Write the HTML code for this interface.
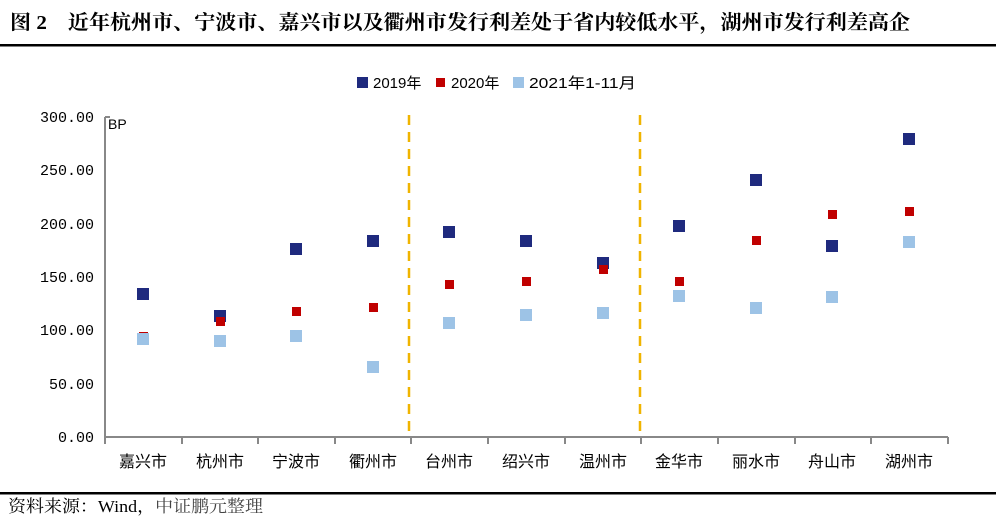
<!DOCTYPE html>
<html><head><meta charset="utf-8"><style>
body{margin:0;background:#fff;width:996px;height:523px;overflow:hidden}
</style></head><body>
<svg width="996" height="523" xmlns="http://www.w3.org/2000/svg" style="position:absolute;left:0;top:0">
<text x="10" y="29" font-family="'Liberation Serif','Noto Serif CJK SC',serif" font-size="20" font-weight="bold" fill="#000" textLength="900" lengthAdjust="spacingAndGlyphs">图 2　近年杭州市、宁波市、嘉兴市以及衢州市发行利差处于省内较低水平，湖州市发行利差高企</text>
<rect x="0" y="44" width="996" height="2.5" fill="#000"/>
<rect x="0" y="492" width="996" height="2.5" fill="#000"/>
<text x="8" y="512" font-family="'Liberation Serif','Noto Serif CJK SC',serif" font-size="17" fill="#000" textLength="255" lengthAdjust="spacingAndGlyphs">资料来源：Wind，<tspan fill="#444">中证鹏元整理</tspan></text>
<g font-family="'Liberation Sans','Noto Sans CJK SC',sans-serif" font-size="15" fill="#000">
<rect x="357" y="77" width="11" height="11" fill="#1F2A7E"/><text x="373" y="88">2019年</text>
<rect x="436" y="78" width="9" height="9" fill="#C00000"/><text x="451" y="88">2020年</text>
<rect x="513" y="77" width="11" height="11" fill="#9DC3E6"/><text x="529" y="88" textLength="107" lengthAdjust="spacingAndGlyphs">2021年1-11月</text>
<text x="108" y="129" font-size="14">BP</text>
</g>
<g font-family="'Liberation Mono','Noto Sans CJK SC',monospace" font-size="15" fill="#000" text-anchor="end">
<text x="94" y="122">300.00</text><text x="94" y="175">250.00</text><text x="94" y="229">200.00</text>
<text x="94" y="282">150.00</text><text x="94" y="335">100.00</text><text x="94" y="389">50.00</text><text x="94" y="442">0.00</text>
</g>
<g stroke="#888" stroke-width="2" fill="none">
<line x1="105" y1="117" x2="105" y2="444"/>
<line x1="104" y1="437" x2="948" y2="437"/>
<line x1="182" y1="437" x2="182" y2="444"/><line x1="258" y1="437" x2="258" y2="444"/><line x1="335" y1="437" x2="335" y2="444"/>
<line x1="411" y1="437" x2="411" y2="444"/><line x1="488" y1="437" x2="488" y2="444"/><line x1="565" y1="437" x2="565" y2="444"/>
<line x1="641" y1="437" x2="641" y2="444"/><line x1="718" y1="437" x2="718" y2="444"/><line x1="795" y1="437" x2="795" y2="444"/>
<line x1="871" y1="437" x2="871" y2="444"/><line x1="948" y1="437" x2="948" y2="444"/>
<line x1="105" y1="117" x2="110" y2="117"/>
</g>
<g stroke="#F0B400" stroke-width="2.5" stroke-dasharray="10,7">
<line x1="409" y1="115" x2="409" y2="437"/><line x1="640" y1="115" x2="640" y2="437"/>
</g>
<g font-family="'Liberation Sans','Noto Sans CJK SC',sans-serif" font-size="16" fill="#000" text-anchor="middle">
<text x="143" y="467">嘉兴市</text><text x="220" y="467">杭州市</text><text x="296" y="467">宁波市</text><text x="373" y="467">衢州市</text>
<text x="449" y="467">台州市</text><text x="526" y="467">绍兴市</text><text x="603" y="467">温州市</text><text x="679" y="467">金华市</text>
<text x="756" y="467">丽水市</text><text x="832" y="467">舟山市</text><text x="909" y="467">湖州市</text>
</g>
<g fill="#1F2A7E">
<rect x="137" y="288" width="12" height="12"/><rect x="214" y="310" width="12" height="12"/><rect x="290" y="243" width="12" height="12"/>
<rect x="367" y="235" width="12" height="12"/><rect x="443" y="226" width="12" height="12"/><rect x="520" y="235" width="12" height="12"/>
<rect x="597" y="257" width="12" height="12"/><rect x="673" y="220" width="12" height="12"/><rect x="750" y="174" width="12" height="12"/>
<rect x="826" y="240" width="12" height="12"/><rect x="903" y="133" width="12" height="12"/>
</g>
<g fill="#C00000">
<rect x="139" y="332" width="9" height="9"/><rect x="216" y="317" width="9" height="9"/><rect x="292" y="307" width="9" height="9"/>
<rect x="369" y="303" width="9" height="9"/><rect x="445" y="280" width="9" height="9"/><rect x="522" y="277" width="9" height="9"/>
<rect x="599" y="265" width="9" height="9"/><rect x="675" y="277" width="9" height="9"/><rect x="752" y="236" width="9" height="9"/>
<rect x="828" y="210" width="9" height="9"/><rect x="905" y="207" width="9" height="9"/>
</g>
<g fill="#9DC3E6">
<rect x="137" y="333" width="12" height="12"/><rect x="214" y="335" width="12" height="12"/><rect x="290" y="330" width="12" height="12"/>
<rect x="367" y="361" width="12" height="12"/><rect x="443" y="317" width="12" height="12"/><rect x="520" y="309" width="12" height="12"/>
<rect x="597" y="307" width="12" height="12"/><rect x="673" y="290" width="12" height="12"/><rect x="750" y="302" width="12" height="12"/>
<rect x="826" y="291" width="12" height="12"/><rect x="903" y="236" width="12" height="12"/>
</g>
</svg>
</body></html>
